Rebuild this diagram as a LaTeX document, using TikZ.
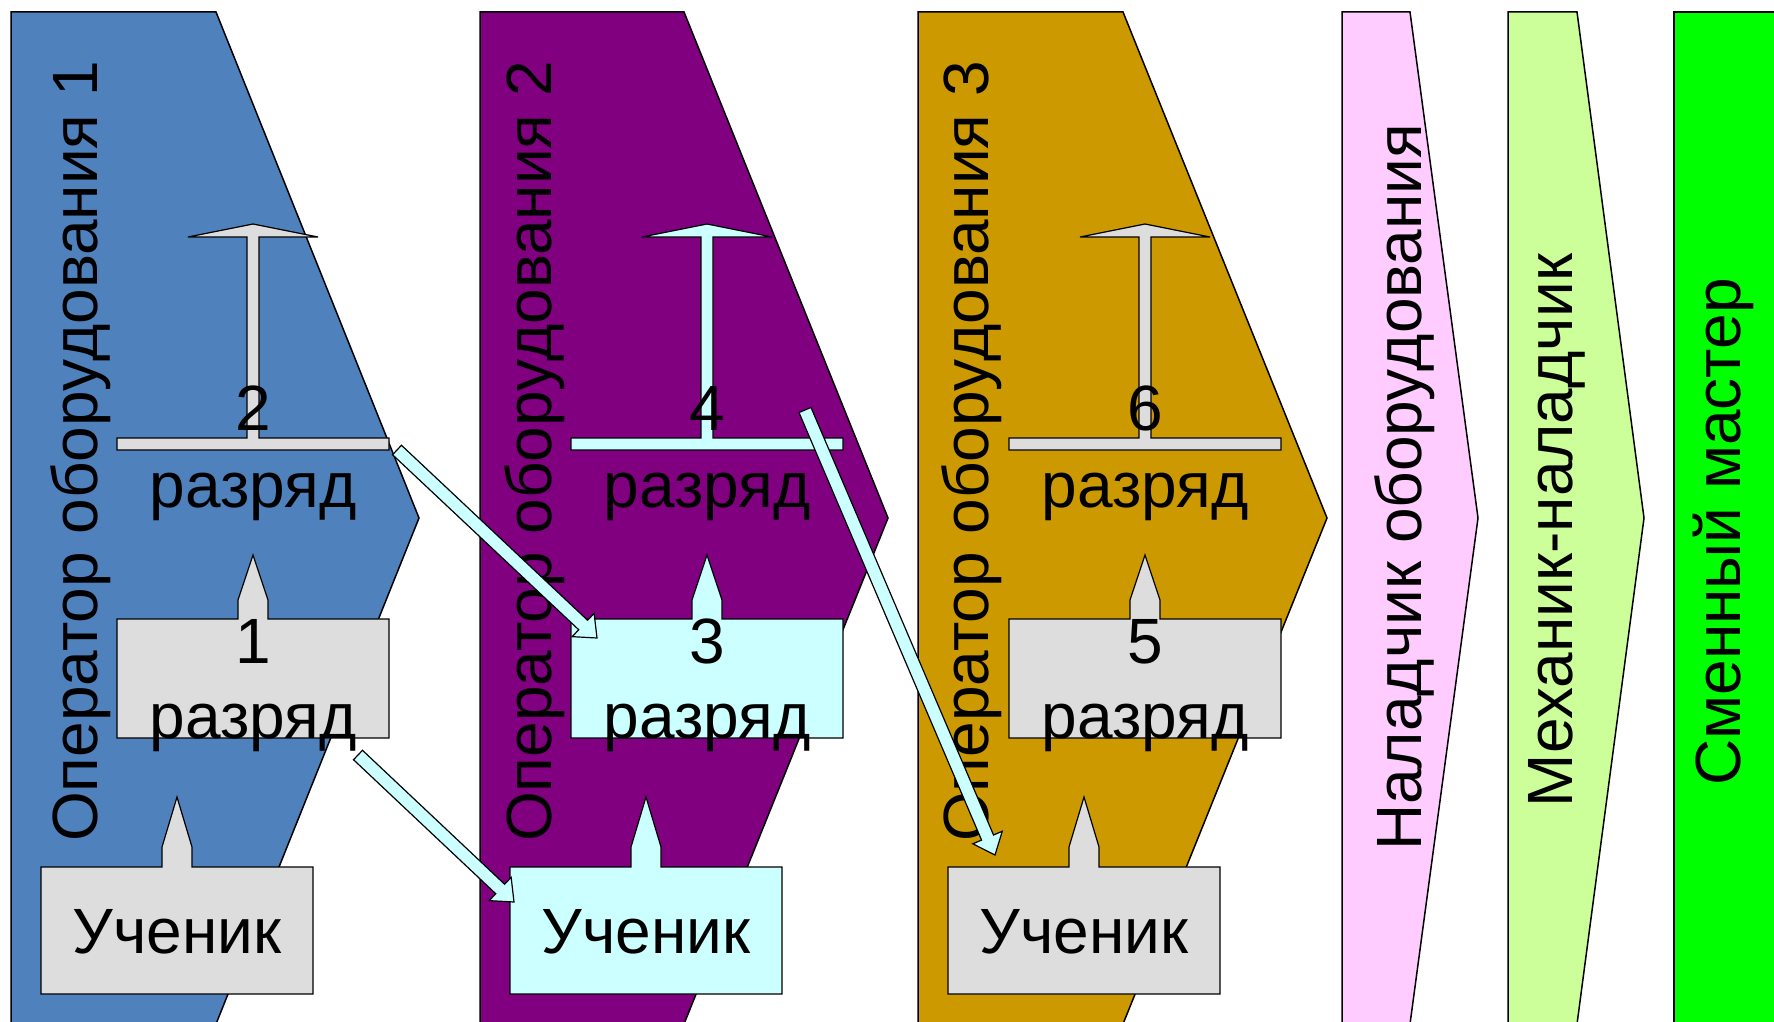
\documentclass[tikz,border=0pt]{standalone}
\usepackage{fontspec}
\setmainfont{Liberation Sans}
\usetikzlibrary{calc}

\definecolor{opblue}{HTML}{4F81BD}
\definecolor{oppurple}{HTML}{800080}
\definecolor{opgold}{HTML}{CC9900}
\definecolor{setpink}{HTML}{FFCCFF}
\definecolor{mechgreen}{HTML}{CCFF99}
\definecolor{mastergreen}{HTML}{00FF00}
\definecolor{rankgray}{HTML}{DDDDDD}
\definecolor{rankcyan}{HTML}{CCFFFF}

\tikzset{
  band/.style={draw=black, line width=1.5pt, line join=miter},
  rankshape/.style={draw=black, line width=1.2pt, line join=miter},
  txt/.style={inner sep=0pt, font=\fontsize{64}{64}\selectfont},
  vtxt/.style={txt, rotate=90, anchor=base west},
  jump/.style={draw=black, line width=1.2pt, fill=rankcyan, line join=miter},
}

% one operator column: #1 rank centre x, #2 trainee centre x, #3 fill,
% #4 upper grade, #5 lower grade, #6 name suffix
\newcommand\rankcolumn[6]{%
  % upper grade: bar with a flat-headed arrow
  \filldraw[rankshape, fill=#3]
    ({#1-136},450) -- ({#1+136},450) -- ({#1+136},438) -- ({#1+6},438)
    -- ({#1+6},237) -- ({#1+65},237) -- (#1,224) -- ({#1-65},237)
    -- ({#1-6},237) -- ({#1-6},438) -- ({#1-136},438) -- cycle;
  % lower grade: box with a pointer on top
  \filldraw[rankshape, fill=#3]
    ({#1-136},619) -- ({#1-15},619) -- ({#1-15},600) -- (#1,555)
    -- ({#1+15},600) -- ({#1+15},619) -- ({#1+136},619)
    -- ({#1+136},738) -- ({#1-136},738) -- cycle;
  % trainee box with a pointer on top
  \filldraw[rankshape, fill=#3]
    ({#2-136},867) -- ({#2-15},867) -- ({#2-15},847) -- (#2,797)
    -- ({#2+15},847) -- ({#2+15},867) -- ({#2+136},867)
    -- ({#2+136},994) -- ({#2-136},994) -- cycle;
  \node[txt, anchor=base] (up#6) at (#1,430) {#4};
  \node[txt, anchor=base] (upr#6) at (#1,507) {разряд};
  \node[txt, anchor=base] (lo#6) at (#1,663) {#5};
  \node[txt, anchor=base] (lor#6) at (#1,738) {разряд};
  \node[txt, anchor=base] (tr#6) at (#2,953) {Ученик};
}

% thin block arrow from #1 to #2
\newcommand\blockarrow[2]{%
  \coordinate (neck) at ($(#2)!19pt!(#1)$);
  \filldraw[jump] ($(#1)!6.5pt!90:(#2)$) -- ($(neck)!6.5pt!90:(#2)$)
    -- ($(neck)!16pt!90:(#2)$) -- (#2) -- ($(neck)!16pt!-90:(#2)$)
    -- ($(neck)!6.5pt!-90:(#2)$) -- ($(#1)!6.5pt!-90:(#2)$) -- cycle;
}

\begin{document}
\begin{tikzpicture}[x=1pt, y=-1pt]
\useasboundingbox (0,0) rectangle (1774,1022);
\begin{scope}
\clip (0,0) rectangle (1774,1022);

% career bands
\filldraw[band, fill=opblue]
  (11,12) -- (216,12) -- (419,518) -- (216,1024) -- (11,1024) -- cycle;
\filldraw[band, fill=oppurple]
  (480,12) -- (684,12) -- (888,518) -- (684,1024) -- (480,1024) -- cycle;
\filldraw[band, fill=opgold]
  (918,12) -- (1123,12) -- (1327,518) -- (1123,1024) -- (918,1024) -- cycle;
\filldraw[band, fill=setpink]
  (1342,12) -- (1410,12) -- (1478,518) -- (1410,1024) -- (1342,1024) -- cycle;
\filldraw[band, fill=mechgreen]
  (1508,12) -- (1577,12) -- (1644,518) -- (1577,1024) -- (1508,1024) -- cycle;
\filldraw[band, fill=mastergreen] (1674,12) rectangle (1800,1040);

% band titles
\node[vtxt] (op1) at (97,842) {Оператор оборудования 1};
\node[vtxt] (op2) at (551,842) {Оператор оборудования 2};
\node[vtxt] (op3) at (988,842) {Оператор оборудования 3};
\node[vtxt] (setter) at (1421,851) {Наладчик оборудования};
\node[vtxt] (mech) at (1572,808) {Механик-наладчик};
\node[vtxt] (master) at (1740,786) {Сменный мастер};

% grades inside the operator bands
\rankcolumn{253}{177}{rankgray}{2}{1}{a}
\rankcolumn{707}{646}{rankcyan}{4}{3}{b}
\rankcolumn{1145}{1084}{rankgray}{6}{5}{c}

% transitions between bands
\coordinate (j1s) at (397,450);
\coordinate (j1e) at (597,638);
\coordinate (j2s) at (358,755);
\coordinate (j2e) at (514,902);
\coordinate (j3s) at (805,410);
\coordinate (j3e) at (995,855);
\blockarrow{j1s}{j1e}
\blockarrow{j2s}{j2e}
\blockarrow{j3s}{j3e}
\end{scope}
\end{tikzpicture}
\end{document}
